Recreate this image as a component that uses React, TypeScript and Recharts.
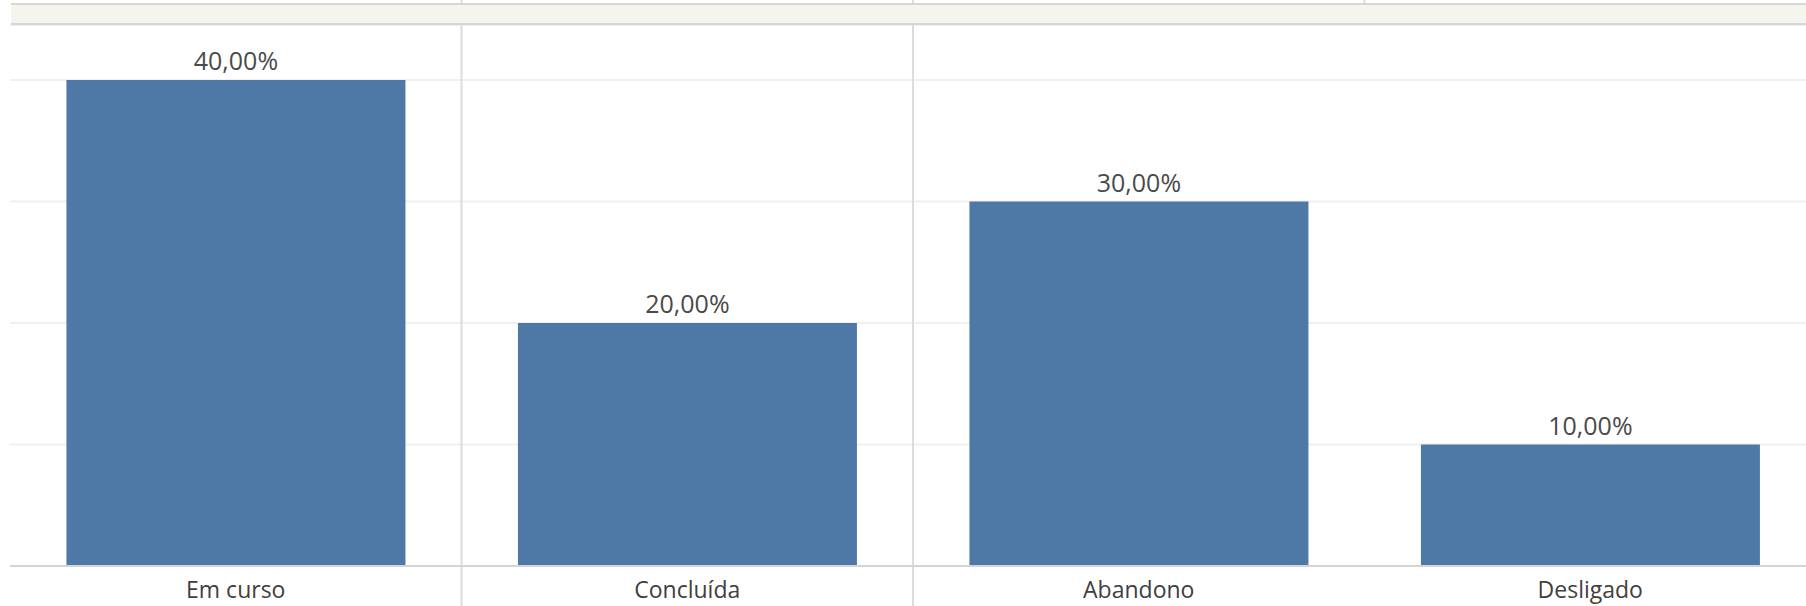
import React from "react";
import { BarChart, Bar, XAxis, YAxis, CartesianGrid, LabelList } from "recharts";

// Situação dos alunos (percent of total)
const categories = ["Em curso", "Concluída", "Abandono", "Desligado"];
const shares = [0.4, 0.2, 0.3, 0.1];
const gridTicks = [0, 0.1, 0.2, 0.3, 0.4];

const data = categories.map((situacao, i) => ({ situacao, share: shares[i] }));

const W = 1816;
const H = 606;
const FONT = "'Open Sans', sans-serif";

const fmtPct = (v: any) => `${(Number(v) * 100).toFixed(2).replace(".", ",")}%`;

// pane dividers sit on the left edge of the given category bands
const dividerGen = (idx: number[]) => (props: any) => {
	const { xAxis, offset } = props;
	const band = offset.width / categories.length;
	return idx.map((i) => {
		const sc = xAxis && xAxis.scale;
		if (typeof sc === "function") {
			const s = sc(categories[i]);
			if (typeof s === "number" && !isNaN(s)) return s;
		}
		return offset.left + i * band;
	});
};

export default function App() {
	return (
		<div
			style={{
				position: "absolute",
				left: 0,
				top: 0,
				width: 1806,
				height: H,
				overflow: "hidden",
				background: "#fff",
			}}
		>
			<BarChart
				width={W}
				height={H}
				data={data}
				margin={{ top: 25, right: 0, bottom: 0, left: 10 }}
				barCategoryGap="12.5%"
			>
				<CartesianGrid
					vertical={false}
					stroke="#f0f0f0"
					strokeWidth={2}
				/>
				<CartesianGrid
					horizontal={false}
					y={0}
					height={H}
					stroke="#dcdcdc"
					strokeWidth={2}
					verticalCoordinatesGenerator={dividerGen([1, 2])}
				/>
				<CartesianGrid
					horizontal={false}
					y={0}
					height={4}
					stroke="#dcdcdc"
					strokeWidth={2}
					verticalCoordinatesGenerator={dividerGen([3])}
				/>
				<XAxis
					dataKey="situacao"
					height={40}
					axisLine={{ stroke: "#d4d4d4", strokeWidth: 2 }}
					tickLine={false}
					tickSize={0}
					tickMargin={16}
					tick={{ fontFamily: FONT, fontSize: 23, fill: "#404040" }}
				/>
				<YAxis hide domain={[0, 0.4453]} ticks={gridTicks} />
				<Bar dataKey="share" fill="#4e79a7" isAnimationActive={false}>
					<LabelList
						dataKey="share"
						position="top"
						offset={10}
						formatter={fmtPct}
						style={{ fontFamily: FONT, fontSize: 25, fill: "#4a4a4a" }}
					/>
				</Bar>
			</BarChart>
			{/* header strip */}
			<div
				style={{
					position: "absolute",
					left: 11,
					top: 3,
					width: 1806,
					height: 18,
					background: "#f5f5ee",
					borderTop: "2px solid #d6d6d6",
					borderBottom: "2px solid #d6d6d6",
				}}
			/>
		</div>
	);
}
